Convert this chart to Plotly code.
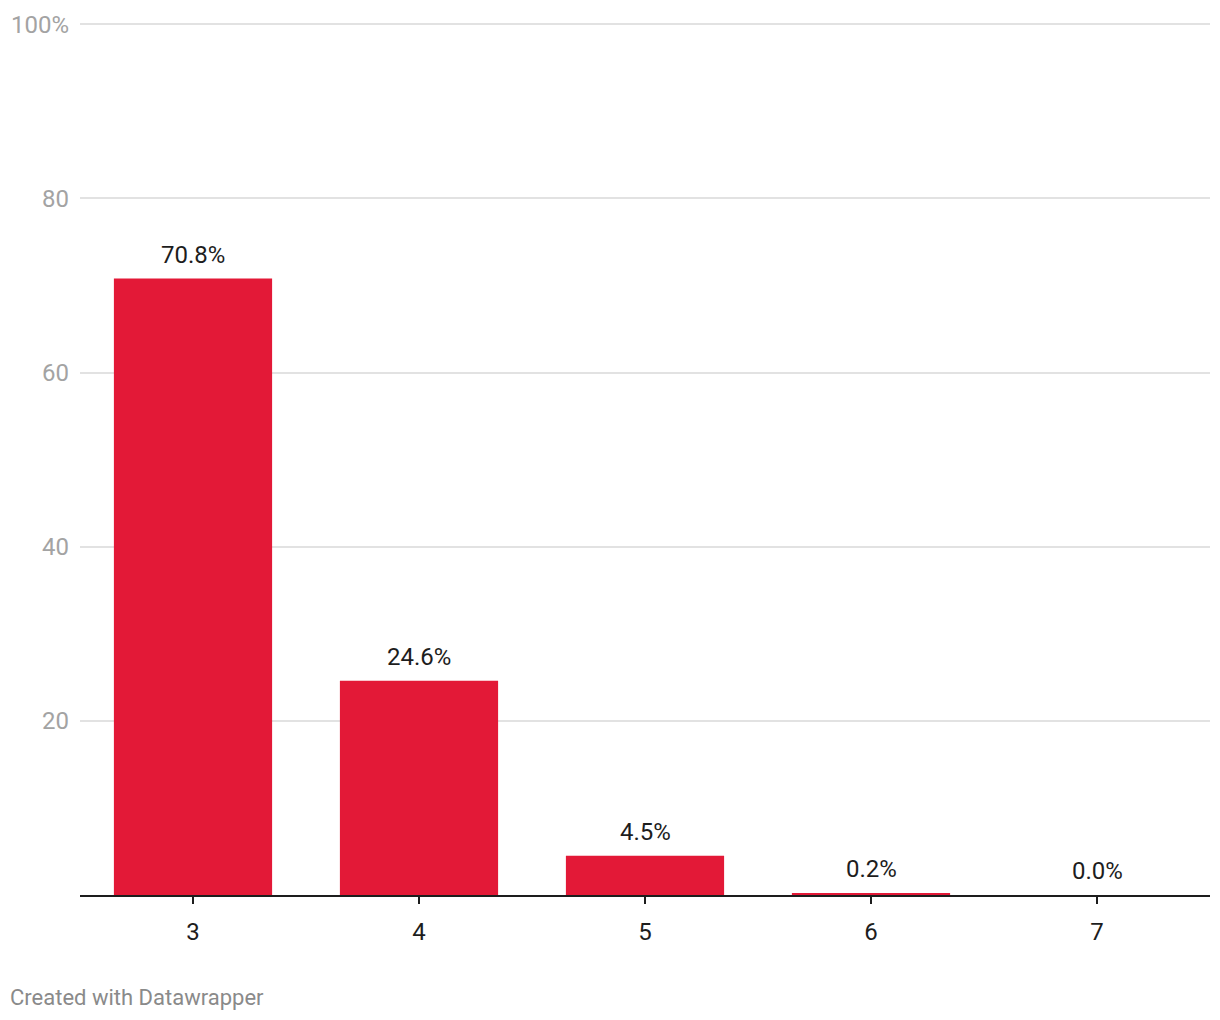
import plotly.graph_objects as go

categories = [3, 4, 5, 6, 7]
values = [70.8, 24.6, 4.5, 0.2, 0.0]
value_labels = ["70.8%", "24.6%", "4.5%", "0.2%", "0.0%"]
y_tickvals = [20, 40, 60, 80, 100]
y_ticktext = ["20", "40", "60", "80", "100%"]

RED = "#e31937"
FONT = "Roboto"

fig = go.Figure()
fig.add_trace(go.Bar(
    x=categories, y=values, width=0.7,
    marker=dict(color=RED, line=dict(width=0)),
    hoverinfo="skip",
))

for c, v, t in zip(categories, values, value_labels):
    fig.add_annotation(
        x=c, y=v, text=t, showarrow=False, yanchor="bottom",
        yshift=8, font=dict(family=FONT, size=24, color="#1d1d1d"),
    )

fig.add_annotation(
    xref="paper", yref="paper", x=0, y=0, xanchor="left", yanchor="middle",
    xshift=-72, yshift=-102, text="Created with Datawrapper", showarrow=False,
    font=dict(family=FONT, size=22, color="#8a8a8a"),
)

fig.update_layout(
    width=1212, height=1012,
    margin=dict(l=72, r=10, t=15, b=125),
    paper_bgcolor="white", plot_bgcolor="white",
    showlegend=False,
    font=dict(family=FONT),
)
fig.update_xaxes(
    range=[2.5, 7.5], tickvals=categories, ticktext=[str(c) for c in categories],
    showgrid=False, zeroline=False, automargin=False,
    showline=True, linecolor="#1d1d1d", linewidth=2,
    ticks="outside", ticklen=7, tickwidth=2, tickcolor="#1d1d1d",
    tickfont=dict(family=FONT, size=24, color="#1d1d1d"),
    ticklabelstandoff=7,
    fixedrange=True,
)
fig.update_yaxes(
    range=[0, 100.15], tickvals=y_tickvals, ticktext=y_ticktext,
    showgrid=True, gridcolor="#e2e2e2", gridwidth=1.5,
    zeroline=False, showline=False, ticks="", automargin=False,
    tickfont=dict(family=FONT, size=24, color="#a3a3a3"),
    ticklabelstandoff=10,
    fixedrange=True,
)

fig.write_html("out.html", config={"displayModeBar": False})
